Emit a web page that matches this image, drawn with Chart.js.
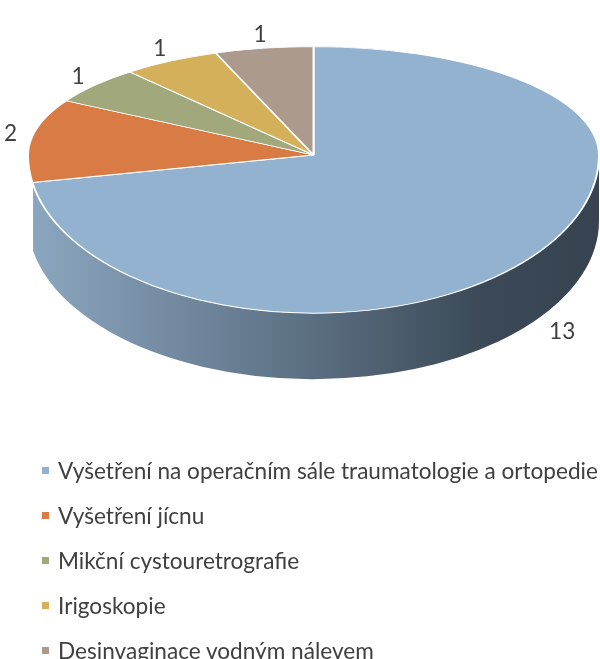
<!DOCTYPE html>
<html>
<head>
<meta charset="utf-8">
<script src="https://cdn.jsdelivr.net/npm/chart.js@4/dist/chart.umd.min.js"></script>
<style>
  body { margin: 0; background: #fff; }
  #wrap { position: relative; width: 600px; height: 659px; overflow: hidden; }
  #legend { position: absolute; left: 42px; top: 448px; font-family: Lato, sans-serif; color: #404040; }
  #legend div { height: 45px; display: flex; align-items: center; white-space: nowrap; }
  #legend span.box { display: inline-block; width: 7px; height: 7px; margin-right: 9px; }
</style>
</head>
<body>
<div id="wrap">
  <canvas id="myChart" width="600" height="659"></canvas>
  <div id="legend"></div>
</div>
<script>
const categories = [
  "Vyšetření na operačním sále traumatologie a ortopedie",
  "Vyšetření jícnu",
  "Mikční cystouretrografie",
  "Irigoskopie",
  "Desinvaginace vodným nálevem"
];
const counts = [13, 2, 1, 1, 1];
const sliceColors = ["#92b2d0", "#d97b45", "#a0a87c", "#d5b05b", "#ad9a8f"];
const wallColors = [null, "#b9642f", "#80875f", "#ae8d44", "#8c7b72"];

// 3d look
const APEX_Y = 155;
const UP_K = 0.38;
const LOW_K = 0.554;
const DEPTH = 66;
const WALL_END = Math.PI * 0.94; // left end of the visible side (perspective hides the rest)

// fit legend font so the long label is ~540px wide (Calibri-ish look)
const mctx = document.createElement("canvas").getContext("2d");
mctx.font = "20px Lato";
const fontSize = Math.round(20 * 540 / mctx.measureText(categories[0]).width * 10) / 10;

const squash = {
  id: "squash",
  beforeDatasetsDraw(chart) {
    const ctx = chart.ctx;
    const meta = chart.getDatasetMeta(0);
    const a0 = meta.data[0];
    const cx = a0.x, cy = a0.y, R = a0.outerRadius;

    const grad = ctx.createLinearGradient(cx - R, 0, cx + R, 0);
    grad.addColorStop(0, "#8ca7c0");
    grad.addColorStop(0.45, "#607488");
    grad.addColorStop(0.8, "#3b4957");
    grad.addColorStop(1, "#37434f");

    ctx.save();
    meta.data.forEach((arc, i) => {
      const s = Math.max(arc.startAngle, 0), e = Math.min(arc.endAngle, WALL_END);
      if (e <= s) return;
      ctx.beginPath();
      ctx.ellipse(cx, APEX_Y, R, R * LOW_K, 0, s, e);
      ctx.ellipse(cx, APEX_Y + DEPTH, R, R * LOW_K, 0, e, s, true);
      ctx.closePath();
      ctx.fillStyle = i === 0 ? grad : wallColors[i];
      ctx.fill();
    });

    [[0, APEX_Y, UP_K], [APEX_Y, chart.height - APEX_Y, LOW_K]].forEach(([y0, h, k]) => {
      ctx.save();
      ctx.beginPath();
      ctx.rect(0, y0, chart.width, h);
      ctx.clip();
      ctx.translate(0, APEX_Y);
      ctx.scale(1, k);
      ctx.translate(0, -cy);
      meta.controller.draw();
      ctx.restore();
    });
    ctx.restore();
    return false;
  },
  afterDraw(chart) {
    const ctx = chart.ctx;
    const meta = chart.getDatasetMeta(0);
    const a0 = meta.data[0];
    const cx = a0.x, R = a0.outerRadius;
    ctx.save();
    ctx.font = fontSize + "px Lato";
    ctx.fillStyle = "#404040";
    ctx.textBaseline = "middle";
    meta.data.forEach((arc, i) => {
      const mid = (arc.startAngle + arc.endAngle) / 2;
      const c = Math.cos(mid), s = Math.sin(mid);
      const k = s < 0 ? UP_K : LOW_K;
      const x = cx + R * c + 22 * c;
      const y = APEX_Y + R * k * s + 14 * s + (s > 0 ? DEPTH : 0);
      ctx.textAlign = c > 0.5 ? "left" : "center";
      ctx.fillText(String(chart.data.datasets[0].data[i]), x, y);
    });
    ctx.restore();
  }
};

const data = {
  labels: categories,
  datasets: [{
    data: counts,
    backgroundColor: sliceColors,
    borderColor: "#ffffff",
    borderWidth: 2
  }]
};

const config = {
  type: "pie",
  data: data,
  options: {
    responsive: false,
    animation: false,
    layout: { padding: { left: 27, right: 0, top: 0, bottom: 86 } },
    plugins: { legend: { display: false }, tooltip: { enabled: false } }
  },
  plugins: [squash]
};

const chart = new Chart(document.querySelector("#myChart"), config);

// legend, one item per line
const legend = document.querySelector("#legend");
legend.style.fontSize = fontSize + "px";
chart.data.labels.forEach((lab, i) => {
  const row = document.createElement("div");
  const box = document.createElement("span");
  box.className = "box";
  box.style.background = sliceColors[i];
  row.appendChild(box);
  row.appendChild(document.createTextNode(lab));
  legend.appendChild(row);
});
</script>
</body>
</html>
